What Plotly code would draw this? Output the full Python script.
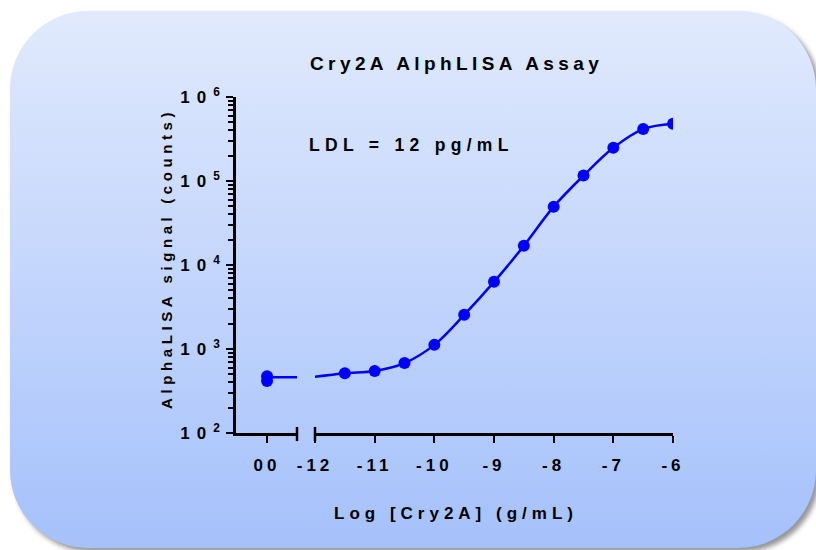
import base64
import plotly.graph_objects as go

# ---------------- data ----------------
zero_x = [0, 0]                      # "00" = no Cry2A
zero_signal = [475, 415]
log_conc = [-11.5, -11, -10.5, -10, -9.5, -9, -8.5, -8, -7.5, -7, -6.5, -6]
signal = [515, 548, 680, 1120, 2550, 6300, 16900, 49500, 116000, 249000, 415000, 480000]
# fitted curve: flat part at the break and the rising part through the points
fit_zero_x = [0, 0.55]
fit_zero_y = [460, 462]
fit_start_x = [-12.05]
fit_start_y = [462]
x_tick_vals = [-12, -11, -10, -9, -8, -7, -6]
x_tick_text = ["-12", "-11", "-10", "-9", "-8", "-7", "-6"]
y_tick_vals = [1e2, 1e3, 1e4, 1e5, 1e6]
y_tick_exp = ["2", "3", "4", "5", "6"]

W, H = 816, 550
FONT = "Liberation Sans, Arial, sans-serif"
BLUE = "#0000ff"


def ls(txt, px=4):
    return '<span style="letter-spacing:%spx">%s</span>' % (px, txt)


def px_x(p):
    return p / W


def px_y(p):
    return 1 - p / H


# background rounded panel with gradient + shadow
svg = f'''<svg xmlns="http://www.w3.org/2000/svg" width="{W}" height="{H}" viewBox="0 0 {W} {H}">
<defs>
<linearGradient id="g" x1="0" y1="0" x2="0" y2="1">
<stop offset="0" stop-color="#e1eafd"/><stop offset="1" stop-color="#a5c1fb"/>
</linearGradient>
<filter id="s" x="-5%" y="-5%" width="110%" height="110%"><feGaussianBlur stdDeviation="2.5"/></filter>
</defs>
<rect x="14" y="15" width="806" height="537" rx="78" fill="#404040" opacity="0.55" filter="url(#s)"/>
<rect x="10" y="11" width="806" height="537" rx="78" fill="url(#g)"/>
</svg>'''
svg_uri = "data:image/svg+xml;base64," + base64.b64encode(svg.encode()).decode()

minor_vals = [m * 10 ** e for e in range(2, 6) for m in range(2, 10)]

fig = go.Figure()

# left segment (zero concentration)
fig.add_trace(go.Scatter(x=fit_zero_x, y=fit_zero_y, mode="lines",
                         line=dict(color=BLUE, width=2.5),
                         xaxis="x", yaxis="y", hoverinfo="skip"))
fig.add_trace(go.Scatter(x=zero_x, y=zero_signal, mode="markers",
                         marker=dict(color=BLUE, size=12),
                         xaxis="x", yaxis="y"))
# main segment
fig.add_trace(go.Scatter(x=fit_start_x + log_conc, y=fit_start_y + signal, mode="lines",
                         line=dict(color=BLUE, width=2.5, shape="spline", smoothing=1.0),
                         xaxis="x2", yaxis="y", hoverinfo="skip"))
fig.add_trace(go.Scatter(x=log_conc, y=signal, mode="markers",
                         marker=dict(color=BLUE, size=12),
                         xaxis="x2", yaxis="y"))

axis_common = dict(showline=True, linecolor="black", linewidth=2.5,
                   ticks="outside", tickcolor="black", tickwidth=2, ticklen=7,
                   showgrid=False, zeroline=False, automargin=False,
                   fixedrange=True)
xfont = dict(family=FONT, size=17, color="black", weight="bold")
yfont = dict(family=FONT, size=17, color="black", weight="bold")

fig.update_layout(
    width=W, height=H,
    autosize=False,
    margin=dict(l=0, r=0, t=0, b=0, pad=0, autoexpand=False),
    paper_bgcolor="white",
    plot_bgcolor="rgba(0,0,0,0)",
    showlegend=False,
    images=[dict(source=svg_uri, xref="paper", yref="paper", x=0, y=1,
                 sizex=1, sizey=1, sizing="stretch", layer="below",
                 xanchor="left", yanchor="top")],
    xaxis=dict(domain=[px_x(236), px_x(297)], range=[-0.52, 0.502], anchor="y",
               tickvals=[0], ticktext=[ls("00")], ticklabelstandoff=8,
               tickfont=xfont, **axis_common),
    xaxis2=dict(domain=[px_x(315), px_x(673)], range=[-12, -6], anchor="y",
                tickvals=x_tick_vals, ticktext=[ls(t) for t in x_tick_text],
                ticklabelstandoff=8, tickfont=xfont, **axis_common),
    yaxis=dict(domain=[px_y(433), px_y(97)], type="log", range=[2, 6], anchor="x",
               tickvals=y_tick_vals,
               ticktext=[ls("10", 7) + "<sup>" + e + "</sup>" for e in y_tick_exp],
               ticklabelstandoff=3, tickfont=yfont,
               minor=dict(tickmode="array", tickvals=minor_vals, ticks="outside",
                          ticklen=5, tickwidth=2, tickcolor="black", showgrid=False),
               **axis_common),
)

# axis break marks
for xr, xv in (("x domain", 1), ("x2 domain", 0)):
    fig.add_shape(type="line", xref=xr, yref="y domain", x0=xv, x1=xv,
                  y0=-0.024, y1=0.018, line=dict(color="black", width=2.5))

ann_font = dict(family=FONT, color="black", weight="bold")
fig.add_annotation(text=ls("Cry2A AlphLISA Assay", 4.4), xref="paper", yref="paper",
                   x=px_x(456), y=px_y(64), xanchor="center", yanchor="middle",
                   showarrow=False, font=dict(size=19, **ann_font))
fig.add_annotation(text=ls("LDL = 12 pg/mL", 5.3), xref="paper", yref="paper",
                   x=px_x(307), y=px_y(145), xanchor="left", yanchor="middle",
                   showarrow=False, font=dict(size=17.5, **ann_font))
fig.add_annotation(text=ls("Log [Cry2A] (g/mL)", 5), xref="paper", yref="paper",
                   x=px_x(456), y=px_y(513), xanchor="center", yanchor="middle",
                   showarrow=False, font=dict(size=17, **ann_font))
fig.add_annotation(text=ls("AlphaLISA signal (counts)", 4.6), xref="paper", yref="paper",
                   x=px_x(166), y=px_y(259), xanchor="center", yanchor="middle",
                   textangle=-90, showarrow=False, font=dict(size=15, **ann_font))

fig.write_html("out.html", config={"displayModeBar": False},
               post_script="document.body.style.margin='0px';")
